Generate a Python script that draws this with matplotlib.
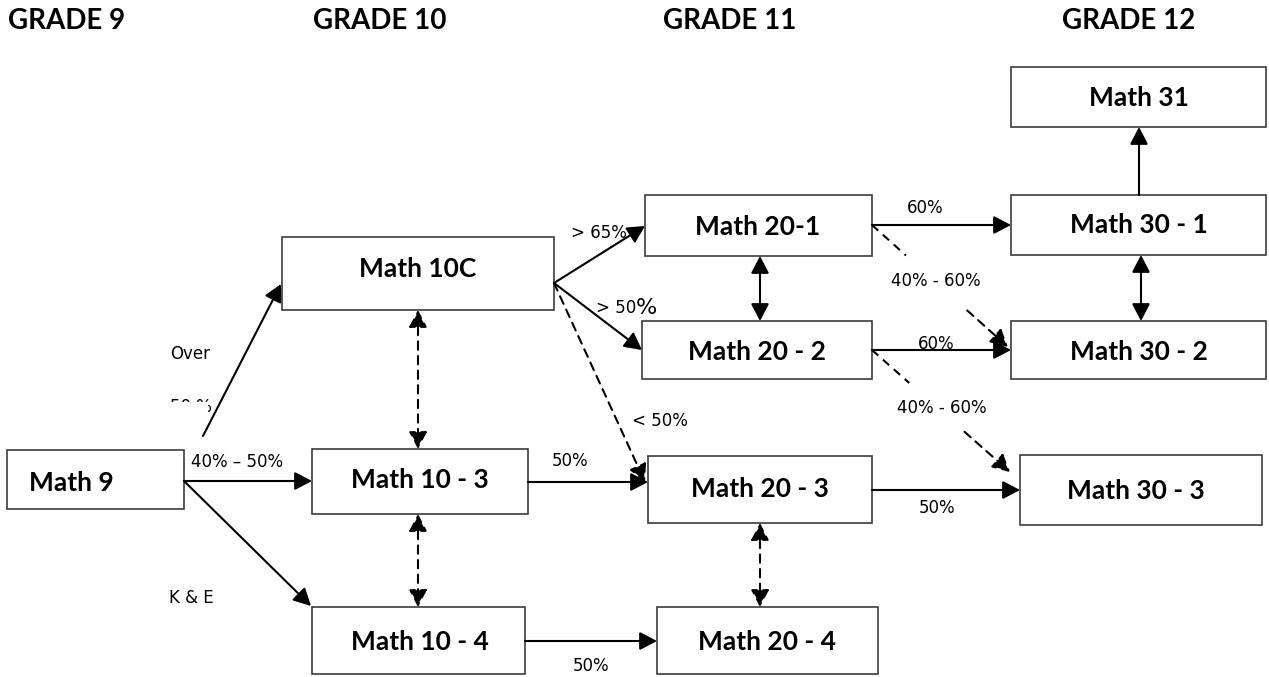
import matplotlib.pyplot as plt
from matplotlib.patches import Rectangle, FancyArrowPatch

# headers and course boxes
grades = ["GRADE 9", "GRADE 10", "GRADE 11", "GRADE 12"]
grade_x = [8, 313, 663, 1062]

courses = ["Math 9", "Math 10C", "Math 10 - 3", "Math 10 - 4",
           "Math 20-1", "Math 20 - 2", "Math 20 - 3", "Math 20 - 4",
           "Math 31", "Math 30 - 1", "Math 30 - 2", "Math 30 - 3"]
# left, top, right, bottom (pixels)
boxes = {
    "Math 9": (7, 450, 184, 509),
    "Math 10C": (282, 237, 554, 310),
    "Math 10 - 3": (312, 449, 528, 514),
    "Math 10 - 4": (312, 607, 525, 674),
    "Math 20-1": (645, 195, 872, 256),
    "Math 20 - 2": (642, 321, 872, 379),
    "Math 20 - 3": (648, 456, 872, 523),
    "Math 20 - 4": (657, 607, 878, 674),
    "Math 31": (1011, 67, 1266, 127),
    "Math 30 - 1": (1011, 195, 1266, 255),
    "Math 30 - 2": (1011, 321, 1266, 379),
    "Math 30 - 3": (1020, 455, 1262, 525),
}
# where the text sits inside each box
text_pos = {
    "Math 9": (71, 483),
    "Math 10C": (418, 269),
    "Math 10 - 3": (420, 480),
    "Math 10 - 4": (420, 642),
    "Math 20-1": (758, 227),
    "Math 20 - 2": (757, 352),
    "Math 20 - 3": (760, 489),
    "Math 20 - 4": (767, 642),
    "Math 31": (1139, 98),
    "Math 30 - 1": (1139, 225),
    "Math 30 - 2": (1139, 352),
    "Math 30 - 3": (1136, 491),
}

# arrows: start, end, kind ('one', 'both'), dashed
arrows = [
    ((203, 436), (281, 284), "one", False),
    ((184, 481), (312, 481), "one", False),
    ((184, 481), (311, 606), "one", False),
    ((418, 310), (418, 449), "both", True),
    ((418, 514), (418, 607), "both", True),
    ((528, 482), (648, 482), "one", False),
    ((554, 283), (645, 226), "one", False),
    ((554, 283), (642, 350), "one", False),
    ((554, 283), (645, 482), "one", True),
    ((525, 641), (657, 641), "one", False),
    ((760, 256), (760, 321), "both", False),
    ((760, 523), (760, 607), "both", True),
    ((872, 225), (1011, 225), "one", False),
    ((872, 350), (1011, 350), "one", False),
    ((872, 490), (1020, 490), "one", False),
    ((1139, 195), (1139, 127), "one", False),
    ((1141, 255), (1141, 321), "both", False),
]
# dashed arrows that are broken by their label: start, end, gap as fractions
broken = [
    ((872, 225), (1008, 347), 0.25, 0.70),
    ((872, 350), (1010, 472), 0.27, 0.67),
]

labels = ["Over", "40% \u2013 50%", "K & E", "50%", "> 65%", "< 50%",
          "60%", "40% - 60%", "60%", "40% - 60%", "50%", "50%"]
label_pos = [(190, 354), (237, 462), (191, 598), (570, 461), (599, 233),
             (660, 421), (925, 208), (936, 281), (936, 344), (942, 408),
             (937, 508), (591, 666)]

W, H = 1269, 677
fig = plt.figure(figsize=(W / 100, H / 100), dpi=100)
ax = fig.add_axes([0, 0, 1, 1])
ax.set_xlim(0, W)
ax.set_ylim(H, 0)
ax.axis("off")

bold_font = "Lato"
small_font = "DejaVu Sans"

for g, x in zip(grades, grade_x):
    ax.text(x, 21, g, fontsize=20, fontweight="bold", family=bold_font,
            ha="left", va="center")

for c in courses:
    x0, y0, x1, y1 = boxes[c]
    ax.add_patch(Rectangle((x0, y0), x1 - x0, y1 - y0, fc="white",
                           ec="#3c3c3c", lw=1.2, zorder=2))
    tx, ty = text_pos[c]
    ax.text(tx, ty, c, fontsize=19, fontweight="bold", family=bold_font,
            ha="center", va="center", zorder=4)


def arrow(p0, p1, kind="one", dashed=False):
    style = "<|-|>" if kind == "both" else "-|>"
    ls = (0, (4, 3)) if dashed else "-"
    a = FancyArrowPatch(p0, p1, arrowstyle=style + ",head_length=1.05,head_width=0.55",
                        mutation_scale=10, lw=1.5, color="black", linestyle=ls,
                        shrinkA=0, shrinkB=0, zorder=5)
    ax.add_patch(a)


for p0, p1, kind, dashed in arrows:
    arrow(p0, p1, kind, dashed)

for p0, p1, t0, t1 in broken:
    g0 = (p0[0] + t0 * (p1[0] - p0[0]), p0[1] + t0 * (p1[1] - p0[1]))
    g1 = (p0[0] + t1 * (p1[0] - p0[0]), p0[1] + t1 * (p1[1] - p0[1]))
    ax.plot([p0[0], g0[0]], [p0[1], g0[1]], color="black", lw=1.5,
            linestyle=(0, (4, 3)), zorder=5)
    arrow(g1, p1, "one", True)

for t, (x, y) in zip(labels, label_pos):
    ax.text(x, y, t, fontsize=12, family=small_font, ha="center",
            va="center", zorder=3)

# "> 50%" has a bigger percent sign
ax.text(636, 313, "> 50", fontsize=12, family=small_font, ha="right",
        va="baseline", zorder=3)
ax.text(636, 314, "%", fontsize=16, family=small_font, ha="left",
        va="baseline", zorder=3)

# "50 %" under "Over" is cut off by its text box
ax.text(170, 407, "50 %", fontsize=12, family=small_font, ha="left",
        va="center", zorder=3)
ax.add_patch(Rectangle((160, 402), 48, 16, fc="white", ec="none", zorder=3.5))

plt.savefig("out.png", dpi=100)
